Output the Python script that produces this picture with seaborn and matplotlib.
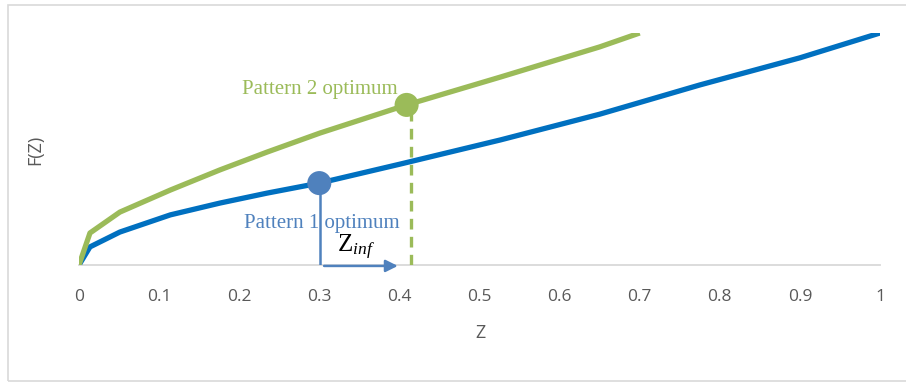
import matplotlib
matplotlib.use("Agg")
import matplotlib.pyplot as plt
from matplotlib.patches import Rectangle
import seaborn as sns
import pandas as pd

# Cumulative curves F(Z) for the two patterns
z_pattern1 = [0.0, 0.0137, 0.051, 0.114, 0.176, 0.235, 0.300, 0.401, 0.526, 0.650, 0.775, 0.900, 1.0]
f_pattern1 = [0.0, 0.078, 0.142, 0.216, 0.267, 0.310, 0.353, 0.435, 0.539, 0.650, 0.776, 0.893, 1.0]
z_pattern2 = [0.0, 0.0137, 0.051, 0.114, 0.176, 0.235, 0.301, 0.409, 0.526, 0.650, 0.700]
f_pattern2 = [0.0, 0.138, 0.228, 0.323, 0.410, 0.487, 0.569, 0.690, 0.810, 0.940, 1.0]

# Optimum points
opt1_z, opt1_f = 0.300, 0.353
opt2_z, opt2_f = 0.409, 0.690
drop2_z = 0.414
arrow_start, arrow_end = 0.306, 0.398

x_ticks = [0, 0.1, 0.2, 0.3, 0.4, 0.5, 0.6, 0.7, 0.8, 0.9, 1]
x_tick_labels = ["0", "0.1", "0.2", "0.3", "0.4", "0.5", "0.6", "0.7", "0.8", "0.9", "1"]

blue_line = "#0070C0"
blue_mark = "#4F81BD"
green = "#9BBB59"
grey_text = "#595959"

sns.set_theme(style="white")
plt.rcParams["font.family"] = ["Open Sans", "DejaVu Sans"]
plt.rcParams["mathtext.fontset"] = "custom"
plt.rcParams["mathtext.rm"] = "Liberation Serif"
plt.rcParams["mathtext.it"] = "Liberation Serif:italic"

fig = plt.figure(figsize=(9.06, 3.83), dpi=100)
ax = fig.add_axes([79 / 906, 1 - 265 / 383, 801 / 906, 232 / 383])

df1 = pd.DataFrame({"Z": z_pattern1, "F": f_pattern1})
df2 = pd.DataFrame({"Z": z_pattern2, "F": f_pattern2})
sns.lineplot(data=df1, x="Z", y="F", ax=ax, color=blue_line, lw=3.8,
             solid_capstyle="butt", zorder=3)
sns.lineplot(data=df2, x="Z", y="F", ax=ax, color=green, lw=3.8,
             solid_capstyle="butt", zorder=3)

# Drop lines from the optima to the axis
ax.plot([opt1_z + 0.001, opt1_z + 0.001], [0, opt1_f], color=blue_mark, lw=1.8, zorder=2)
ax.plot([drop2_z, drop2_z], [0, opt2_f], color=green, lw=2.4,
        dashes=(3.2, 2.2), zorder=2)

# Optimum markers
sns.scatterplot(x=[opt1_z], y=[opt1_f], ax=ax, color=blue_mark, s=300,
                edgecolor="none", zorder=5)
sns.scatterplot(x=[opt2_z], y=[opt2_f], ax=ax, color=green, s=300,
                edgecolor="none", zorder=5)

# Z_inf arrow
ax.annotate("", xy=(arrow_end, -0.004), xytext=(arrow_start, -0.004),
            arrowprops=dict(arrowstyle="-|>", color=blue_mark, lw=1.8,
                            mutation_scale=18, shrinkA=0, shrinkB=0),
            zorder=6, annotation_clip=False)
ax.text(0.322, 0.012, r"$\mathrm{Z}_{inf}$", fontsize=18, color="black",
        ha="left", va="bottom", zorder=6)

ax.text(0.203, 0.755, "Pattern 2 optimum", color=green, fontsize=15,
        family="Liberation Serif", ha="left", va="center", zorder=6)
ax.text(0.206, 0.178, "Pattern 1 optimum", color=blue_mark, fontsize=15,
        family="Liberation Serif", ha="left", va="center", zorder=6)

ax.set_xlim(0, 1)
ax.set_ylim(0, 1)
ax.set_xticks(x_ticks)
ax.set_xticklabels(x_tick_labels)
ax.set_yticks([])
ax.tick_params(axis="x", length=0, pad=17, labelsize=12.5, labelcolor=grey_text)
for side in ["left", "right", "top"]:
    ax.spines[side].set_visible(False)
ax.spines["bottom"].set_color("#D9D9D9")
ax.spines["bottom"].set_linewidth(1.3)
ax.spines["bottom"].set_zorder(1)
ax.set_xlabel("")
ax.set_ylabel("")

fig.text(480 / 906, 1 - 333 / 383, "Z", fontsize=13, color=grey_text,
         ha="center", va="center")
fig.text(35 / 906, 1 - 150 / 383, "F(Z)", fontsize=13, color=grey_text,
         ha="center", va="center", rotation=90)

# Light frame around the chart
fig.patches.append(Rectangle((8 / 906, 1 - 381 / 383), 1.0, (381 - 5) / 383,
                             transform=fig.transFigure, fill=False,
                             edgecolor="#D9D9D9", lw=1.2))

fig.savefig("out.png", dpi=100)
